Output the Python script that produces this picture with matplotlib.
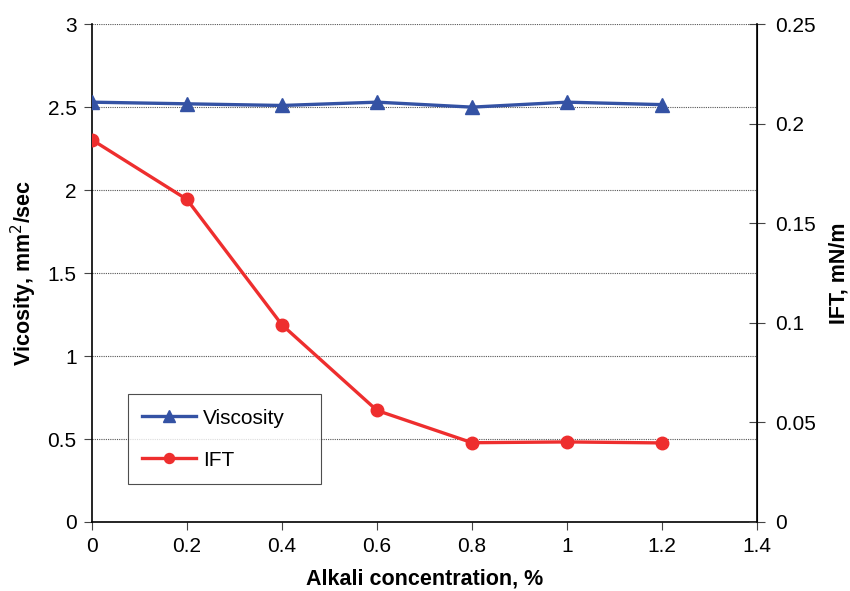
import matplotlib
matplotlib.use("Agg")
import matplotlib.pyplot as plt

plt.rcParams['font.family'] = ['Liberation Sans', 'DejaVu Sans']

alkali = [0, 0.2, 0.4, 0.6, 0.8, 1.0, 1.2]
viscosity = [2.53, 2.52, 2.51, 2.53, 2.50, 2.53, 2.515]
ift = [0.192, 0.162, 0.099, 0.056, 0.0398, 0.0402, 0.0397]

left_ticks = [0, 0.5, 1, 1.5, 2, 2.5, 3]
right_ticks = [0, 0.05, 0.1, 0.15, 0.2, 0.25]
x_ticks = [0, 0.2, 0.4, 0.6, 0.8, 1, 1.2, 1.4]

blue = '#3452A4'
red = '#EE2E2E'

fig = plt.figure(figsize=(8.5, 5.91), dpi=100)
ax = fig.add_axes([0.108, 0.1168, 0.783, 0.8423])
ax2 = ax.twinx()

ax.set_xlim(0, 1.4)
ax.set_ylim(0, 3)
ax2.set_ylim(0, 0.25)

ax.set_xticks(x_ticks)
ax.set_xticklabels(['0', '0.2', '0.4', '0.6', '0.8', '1', '1.2', '1.4'])
ax.set_yticks(left_ticks)
ax.set_yticklabels(['0', '0.5', '1', '1.5', '2', '2.5', '3'])
ax2.set_yticks(right_ticks)
ax2.set_yticklabels(['0', '0.05', '0.1', '0.15', '0.2', '0.25'])

ax.yaxis.grid(True, linestyle=(0, (1, 1)), color='#555555', linewidth=0.8)
ax.set_axisbelow(True)

l1, = ax.plot(alkali, viscosity, color=blue, marker='^', markersize=10, linewidth=2.4, label='Viscosity', zorder=5)
l2, = ax2.plot(alkali, ift, color=red, marker='o', markersize=9, linewidth=2.4, label='IFT', zorder=5)

for a in (ax, ax2):
    a.spines['top'].set_visible(False)
ax.spines['left'].set_linewidth(1.2)
ax.spines['bottom'].set_linewidth(1.2)
ax2.spines['right'].set_linewidth(1.2)
ax2.spines['left'].set_visible(False)
ax2.spines['bottom'].set_visible(False)

ax.tick_params(axis='both', direction='out', length=6, labelsize=15, width=0.8, color='#444444', pad=5)
ax2.tick_params(axis='y', direction='inout', length=12, labelsize=15, width=0.8, pad=7, color='#444444')

ax.set_xlabel('Alkali concentration, %', fontsize=15.5, fontweight='bold')
ax.set_ylabel('Vicosity, mm$^2$/sec', fontsize=15.5, fontweight='bold')
ax2.set_ylabel('IFT, mN/m', fontsize=15.5, fontweight='bold')
ax.xaxis.set_label_coords(0.5, -0.094)
ax.yaxis.set_label_coords(-0.08, 0.5)
ax2.yaxis.set_label_coords(1.107, 0.5)

leg = ax.legend([l1, l2], ['Viscosity', 'IFT'], loc='lower left',
                bbox_to_anchor=(0.054, 0.076, 0.29, 0.183), mode='expand',
                fontsize=15, frameon=True, fancybox=False, edgecolor='#222222',
                handlelength=2.6, labelspacing=1.1, borderpad=0.7, handletextpad=0.3,
                borderaxespad=0, markerscale=0.8)
leg.get_frame().set_linewidth(0.8)
leg.set_zorder(10)

fig.savefig('out.png', dpi=100)
